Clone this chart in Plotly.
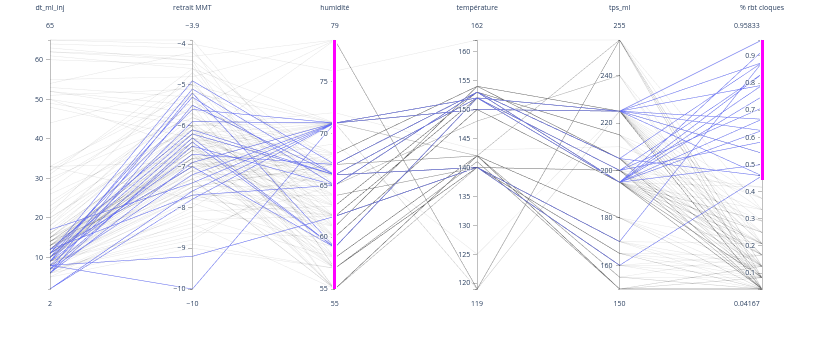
import plotly.graph_objects as go

# Process-condition groups: (humidité, température, tps_ml)
grp_hum = [71, 71, 67, 66, 66, 62, 59, 65, 79, 68, 63, 61, 60, 58, 57, 55, 71, 69, 65, 62, 71, 67, 76, 72, 64, 57, 55]
grp_temp = [152, 150, 153, 152, 140, 140, 152, 153, 119, 154, 153, 154, 150, 142, 140, 142, 119, 125, 148, 152, 142, 142, 162, 143, 140, 141, 140]
grp_tps = [225, 225, 205, 200, 170, 160, 195, 195, 255, 205, 215, 225, 195, 180, 165, 150, 225, 225, 240, 195, 255, 155, 255, 210, 200, 150, 200]

# Individual rows: group index, dt_ml_inj, retrait MMT, % rbt cloques
row_grp = [
    0, 5, 0, 1, 0, 2, 3, 6, 7, 3, 4, 6, 7, 2, 1, 6, 0, 3, 7, 1, 6, 0,
    0, 0, 0, 0, 0,
    1, 1, 1, 1,
    2, 2, 2, 2, 2,
    3, 3, 3, 3, 3,
    4, 4, 4, 4,
    5, 5, 5, 5,
    6, 6, 6, 6, 6,
    7, 7, 7, 7, 7,
    8, 8, 8, 8,
    9, 9, 9, 9, 9, 9,
    10, 10, 10, 10, 10, 10,
    11, 11, 11, 11, 11,
    12, 12, 12, 12, 12,
    13, 13, 13, 13, 13,
    14, 14, 14, 14, 14,
    15, 15, 15, 15, 15,
    16, 16,
    17,
    18, 18, 18,
    19, 19, 19, 19, 19,
    20, 20, 20,
    21, 21, 21, 21,
    22,
    23,
    24, 24, 24, 24,
    25, 25, 25, 25,
    26, 26, 26,
]
dt_ml_inj = [
    8, 8, 2, 2, 17, 11, 9, 7, 10, 6, 12, 8, 7, 9, 6, 11, 7, 10, 12, 9, 6, 11,
    12, 14, 50, 9, 22,
    13, 10, 33, 5,
    15, 11, 63, 8, 20,
    12, 7, 52, 16, 10,
    14, 9, 31, 18,
    11, 6, 48, 13,
    10, 13, 64, 8, 24,
    11, 15, 33, 9, 19,
    62, 55, 32, 12,
    12, 14, 9, 51, 16, 7,
    13, 10, 65, 11, 27, 6,
    12, 15, 49, 8, 21,
    14, 10, 53, 7, 17,
    13, 11, 32, 9, 26,
    12, 8, 60, 15, 5,
    11, 14, 50, 9, 23,
    16, 44,
    10,
    13, 54, 9,
    12, 15, 33, 8, 18,
    11, 61, 14,
    10, 13, 30, 7,
    65,
    20,
    12, 9, 52, 15,
    13, 10, 62, 6,
    11, 14, 29,
]
retrait_mmt = [
    -10.0, -9.2, -7.8, -7.6, -7.4, -4.9, -5.1, -5.2, -5.3, -5.5, -6.1, -6.3, -6.5, -6.7, -6.9, -7.0, -7.2, -6.2, -7.7, -5.9, -6.4, -5.6,
    -6.8, -6.5, -5.9, -7.3, -6.0,
    -6.6, -7.1, -5.2, -8.0,
    -6.3, -7.0, -4.4, -7.5, -6.1,
    -6.9, -7.8, -5.5, -6.2, -6.6,
    -6.4, -7.2, -4.6, -5.8,
    -6.7, -8.3, -6.3, -7.6,
    -6.5, -7.1, -4.1, -7.9, -5.7,
    -6.8, -6.0, -6.9, -8.5, -5.4,
    -4.3, -4.8, -5.6, -6.4,
    -6.1, -6.8, -7.4, -5.1, -5.6, -8.8,
    -6.2, -7.0, -3.9, -6.6, -5.0, -8.1,
    -6.5, -7.2, -6.0, -7.7, -4.7,
    -6.9, -6.3, -5.3, -8.6, -5.9,
    -6.7, -7.4, -4.9, -8.2, -6.1,
    -6.0, -7.6, -4.5, -6.8, -9.0,
    -6.4, -7.3, -6.6, -8.4, -5.5,
    -6.2, -5.0,
    -7.0,
    -6.3, -4.2, -7.5,
    -6.6, -6.1, -7.8, -7.1, -5.2,
    -6.9, -4.6, -6.4,
    -6.8, -7.5, -5.8, -8.7,
    -4.0,
    -6.0,
    -6.2, -7.7, -5.7, -6.9,
    -7.0, -6.5, -4.4, -8.9,
    -6.7, -7.3, -5.3,
]
rbt_cloques = [
    0.54167, 0.45833, 0.95833, 0.875, 0.625, 0.875, 0.83333, 0.79167, 0.66667, 0.58333, 0.875, 0.75, 0.83333, 0.45833, 0.66667, 0.5, 0.45833, 0.70833, 0.91667, 0.54167, 0.625, 0.79167,
    0.29167, 0.125, 0.04167, 0.375, 0.16667,
    0.20833, 0.08333, 0.25, 0.04167,
    0.16667, 0.04167, 0.08333, 0.33333, 0.125,
    0.25, 0.08333, 0.04167, 0.41667, 0.16667,
    0.04167, 0.20833, 0.125, 0.08333,
    0.04167, 0.125, 0.08333, 0.16667,
    0.29167, 0.04167, 0.20833, 0.125, 0.08333,
    0.08333, 0.33333, 0.04167, 0.25, 0.16667,
    0.04167, 0.08333, 0.125, 0.20833,
    0.04167, 0.125, 0.20833, 0.08333, 0.29167, 0.04167,
    0.08333, 0.04167, 0.16667, 0.375, 0.125, 0.25,
    0.04167, 0.20833, 0.125, 0.08333, 0.33333,
    0.16667, 0.04167, 0.25, 0.08333, 0.41667,
    0.04167, 0.125, 0.08333, 0.20833, 0.04167,
    0.08333, 0.04167, 0.125, 0.04167, 0.16667,
    0.04167, 0.08333, 0.04167, 0.125, 0.04167,
    0.04167, 0.08333,
    0.16667,
    0.08333, 0.04167, 0.20833,
    0.125, 0.04167, 0.29167, 0.08333, 0.20833,
    0.04167, 0.08333, 0.125,
    0.04167, 0.08333, 0.04167, 0.16667,
    0.33333,
    0.375,
    0.125, 0.04167, 0.20833, 0.08333,
    0.04167, 0.125, 0.04167, 0.08333,
    0.20833, 0.04167, 0.16667,
]

# Tick values / labels as shown on the reference axes (extremes and the
# selection edge are kept unlabeled - each blank label must be distinct;
# extremes are written above/below the axis like the other range labels)
temp_tickvals = [119, 120, 125, 130, 135, 140, 145, 150, 155, 160, 162]
temp_ticktext = [" ", "120", "125", "130", "135", "140", "145", "150", "155", "160", "  "]
rbt_tickvals = [0.04167, 0.1, 0.2, 0.3, 0.4, 0.45833, 0.5, 0.6, 0.7, 0.8, 0.9, 0.95833]
rbt_ticktext = [" ", "0.1", "0.2", "0.3", "0.4", "  ", "0.5", "0.6", "0.7", "0.8", "0.9", "   "]
temp_range_text = ["162", "119"]
rbt_range_text = ["0.95833", "0.04167"]
rbt_selection = [0.45833, 0.95833]

humidite = [grp_hum[g] for g in row_grp]
temperature = [grp_temp[g] for g in row_grp]
tps_ml = [grp_tps[g] for g in row_grp]

FONT_COLOR = "#2a3f5f"
axis_font = dict(family="Open Sans", size=7, color=FONT_COLOR)

fig = go.Figure(go.Parcoords(
    line=dict(color="#636efa"),
    dimensions=[
        dict(label="dt_ml_inj", values=dt_ml_inj),
        dict(label="retrait MMT", values=retrait_mmt),
        dict(label="humidité", values=humidite, constraintrange=[55, 79]),
        dict(label="température", values=temperature,
             tickvals=temp_tickvals, ticktext=temp_ticktext),
        dict(label="tps_ml", values=tps_ml),
        dict(label="% rbt cloques", values=rbt_cloques, constraintrange=rbt_selection,
             tickvals=rbt_tickvals, ticktext=rbt_ticktext),
    ],
    labelfont=axis_font,
    tickfont=axis_font,
    rangefont=axis_font,
))

# Range (extreme) labels for the two axes that use explicit tick values
n_dims = 6
for dim_index, texts in [(3, temp_range_text), (5, rbt_range_text)]:
    xpos = dim_index / (n_dims - 1)
    fig.add_annotation(x=xpos, y=1, xref="paper", yref="paper", text=texts[0],
                       showarrow=False, yanchor="middle", yshift=13, font=axis_font)
    fig.add_annotation(x=xpos, y=0, xref="paper", yref="paper", text=texts[1],
                       showarrow=False, yanchor="middle", yshift=-12, font=axis_font)

fig.update_layout(
    width=813, height=344,
    margin=dict(l=50, r=51, t=38, b=53),
    paper_bgcolor="white",
    plot_bgcolor="white",
    font=dict(family="Open Sans"),
)

fig.write_html("out.html")
